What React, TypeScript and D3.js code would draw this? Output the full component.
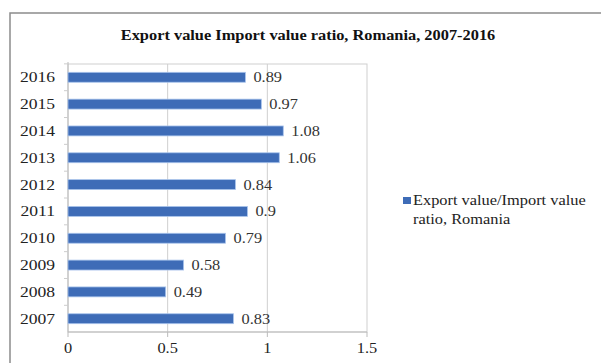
import React from "react";
import * as d3 from "d3";

const years = ["2007", "2008", "2009", "2010", "2011", "2012", "2013", "2014", "2015", "2016"];
const ratios = [0.83, 0.49, 0.58, 0.79, 0.9, 0.84, 1.06, 1.08, 0.97, 0.89];
const ratioLabels = ["0.83", "0.49", "0.58", "0.79", "0.9", "0.84", "1.06", "1.08", "0.97", "0.89"];
const xTicks = [0, 0.5, 1, 1.5];
const title = "Export value Import value ratio, Romania, 2007-2016";
const legendLines = ["Export value/Import value", "ratio, Romania"];

const SX = 1.17;

function T(props: { x: number; y: number; anchor?: string; size: number; bold?: boolean; fill?: string; children: React.ReactNode }) {
  const { x, y, anchor = "start", size, bold, fill = "#222", children } = props;
  return (
    <text transform={`translate(${x},${y}) scale(${SX},1)`} textAnchor={anchor} fontSize={size} fontWeight={bold ? "bold" : "normal"} fill={fill}>
      {children}
    </text>
  );
}

export default function App() {
  const W = 601, H = 363;
  const left = 68, right = 367, top = 64, bottom = 332;
  const x = d3.scaleLinear().domain([0, 1.5]).range([left, right]);
  const y = d3.scaleBand<string>().domain([...years].reverse()).range([top, bottom]).paddingInner(0.63).paddingOuter(0.31);
  const font = "'Liberation Serif', 'Times New Roman', serif";
  const barColor = "#3e6cb7";
  const mid = (yr: string) => (y(yr) ?? 0) + y.bandwidth() / 2;
  return (
    <svg width={W} height={H} style={{ position: "absolute", left: 0, top: 0, background: "#fff" }} fontFamily={font}>
      <rect x={0} y={0} width={W} height={H} fill="#fff" />
      <rect x={10} y={13} width={700} height={500} fill="none" stroke="#8c8c8c" strokeWidth={1.5} />
      <T x={308} y={40} anchor="middle" size={14} bold fill="#111">{title}</T>
      {/* plot border & gridlines */}
      <rect x={left} y={top} width={right - left} height={bottom - top} fill="none" stroke="#cfcfcf" />
      {xTicks.slice(1, -1).map((t) => (
        <line key={t} x1={x(t)} x2={x(t)} y1={top} y2={bottom} stroke="#cfcfcf" />
      ))}
      {/* y axis */}
      <line x1={left} x2={left} y1={top - 2} y2={bottom} stroke="#bbb" />
      {years.map((yr) => (
        <g key={yr}>
          <line x1={left - 4} x2={left} y1={(y(yr) ?? 0) - (y.step() - y.bandwidth()) / 2} y2={(y(yr) ?? 0) - (y.step() - y.bandwidth()) / 2} stroke="#ccc" />
          <T x={55} y={mid(yr) + 5} anchor="end" size={15}>{yr}</T>
        </g>
      ))}
      {/* x axis */}
      <line x1={left} x2={right} y1={bottom} y2={bottom} stroke="#bbb" />
      {xTicks.map((t) => (
        <g key={t}>
          <line x1={x(t)} x2={x(t)} y1={bottom} y2={bottom + 5} stroke="#bbb" />
          <T x={x(t)} y={353} anchor="middle" size={14}>{String(t)}</T>
        </g>
      ))}
      {/* bars */}
      {years.map((yr, i) => (
        <g key={yr}>
          <rect x={x(0)} y={y(yr)} width={x(ratios[i]) - x(0)} height={y.bandwidth()} fill={barColor} stroke="#a9c4ec" strokeWidth={0.8} />
          <T x={x(ratios[i]) + 8} y={mid(yr) + 5} size={14} fill="#333">{ratioLabels[i]}</T>
        </g>
      ))}
      {/* legend */}
      <rect x={403} y={197} width={8} height={7} fill={barColor} />
      <T x={413} y={205} size={14}>{legendLines[0]}</T>
      <T x={413} y={224} size={14}>{legendLines[1]}</T>
    </svg>
  );
}
